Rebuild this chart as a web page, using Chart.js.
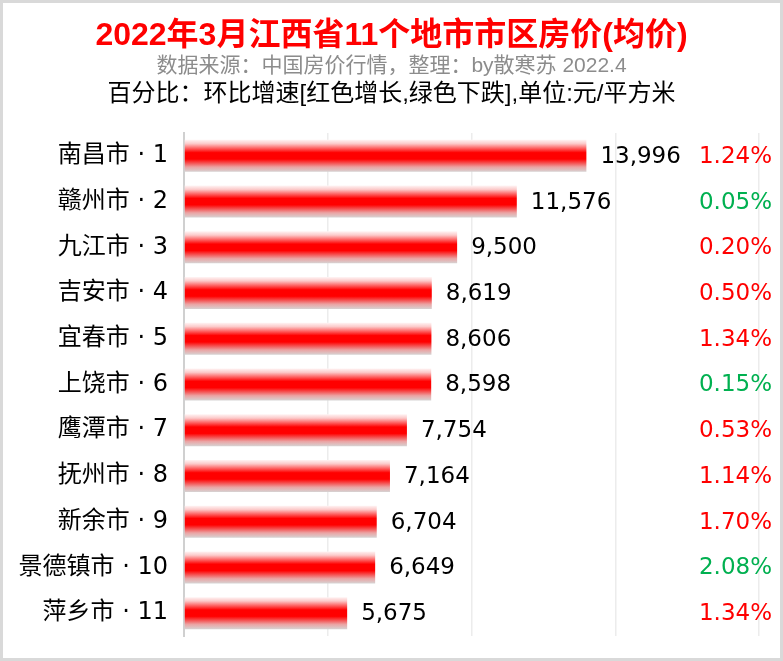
<!DOCTYPE html>
<html><head><meta charset="utf-8">
<script src="https://cdn.jsdelivr.net/npm/chart.js@4/dist/chart.umd.min.js"></script>
<style>html,body{margin:0;padding:0;background:#fff}#wrap{width:783px;height:661px;position:relative}</style>
</head><body><div id="wrap"><canvas id="c" width="783" height="661"></canvas></div>
<script>
const titleText = "2022年3月江西省11个地市市区房价(均价)";
const subtitleText = "数据来源：中国房价行情，整理：by散寒苏 2022.4";
const noteText = "百分比：环比增速[红色增长,绿色下跌],单位:元/平方米";
const cities = ["南昌市 · 1","赣州市 · 2","九江市 · 3","吉安市 · 4","宜春市 · 5","上饶市 · 6","鹰潭市 · 7","抚州市 · 8","新余市 · 9","景德镇市 · 10","萍乡市 · 11"];
const prices = [13996,11576,9500,8619,8606,8598,7754,7164,6704,6649,5675];
const changes = ["1.24%","0.05%","0.20%","0.50%","1.34%","0.15%","0.53%","1.14%","1.70%","2.08%","1.34%"];
const changeIsUp = [true,false,true,true,true,false,true,true,true,false,true];
const axisMax = 20000, axisStep = 5000;

const FONT = '"DejaVu Sans", "Noto Sans CJK SC", sans-serif';
const HFONT = '"Liberation Sans", "Noto Sans CJK SC", sans-serif';

const overlay = {
  id: 'overlay',
  beforeDraw(chart){
    const ctx = chart.ctx;
    ctx.save();
    ctx.fillStyle = '#fff';
    ctx.fillRect(0,0,chart.width,chart.height);
    ctx.restore();
  },
  afterDraw(chart){
    const ctx = chart.ctx;
    const cx = chart.width/2;
    ctx.save();
    ctx.textAlign = 'center'; ctx.textBaseline = 'middle';
    ctx.fillStyle = '#ff0000';
    ctx.font = 'bold 32px ' + HFONT;
    ctx.fillText(titleText, cx, 36);
    ctx.fillStyle = '#8c8c8c';
    ctx.font = '21px ' + HFONT;
    ctx.fillText(subtitleText, cx, 66);
    ctx.fillStyle = '#000';
    ctx.font = '24px ' + HFONT;
    ctx.fillText(noteText, cx, 94);
    const meta = chart.getDatasetMeta(0);
    ctx.font = '23px ' + FONT;
    meta.data.forEach((bar, i) => {
      ctx.textAlign = 'left';
      ctx.fillStyle = '#000';
      ctx.fillText(prices[i].toLocaleString('en-US'), bar.x + 14, bar.y + 1);
      ctx.textAlign = 'right';
      ctx.fillStyle = changeIsUp[i] ? '#ff0000' : '#00b050';
      ctx.fillText(changes[i], chart.width - 11, bar.y + 1);
    });
    ctx.strokeStyle = '#d9d9d9';
    ctx.lineWidth = 3;
    ctx.strokeRect(1.5,1.5,chart.width-3,chart.height-3);
    ctx.restore();
  }
};

function barGradient(context){
  const chart = context.chart;
  const area = chart.chartArea;
  if(!area) return '#ff0000';
  const y = chart.scales.y.getPixelForValue(context.dataIndex);
  const h = (area.bottom - area.top) / cities.length * 0.7;
  const g = chart.ctx.createLinearGradient(0, y - h/2, 0, y + h/2);
  g.addColorStop(0, '#fff4f4');
  g.addColorStop(0.12, '#fccaca');
  g.addColorStop(0.4, '#ff0000');
  g.addColorStop(0.6, '#ff0000');
  g.addColorStop(0.85, '#eba3a3');
  g.addColorStop(1, '#d6d3d3');
  return g;
}

new Chart(document.getElementById('c'), {
  type: 'bar',
  data: { labels: cities, datasets: [{ data: prices, backgroundColor: barGradient, borderWidth: 0, barPercentage: 0.7, categoryPercentage: 1 }] },
  options: {
    responsive: false, animation: false, indexAxis: 'y',
    layout: { padding: { top: 133, right: 24, bottom: 25, left: 0 } },
    plugins: { legend: { display: false }, tooltip: { enabled: false } },
    scales: {
      x: { min: 0, max: axisMax, afterFit(scale){ scale.height = 0; scale.paddingLeft = 0; scale.paddingRight = 0; }, ticks: { display: false, stepSize: axisStep }, grid: { color: '#ececec', lineWidth: 1.5, drawTicks: false }, border: { display: false } },
      y: {
        afterFit(scale){ scale.width = 184; scale.paddingTop = 0; scale.paddingBottom = 0; },
        ticks: { color: '#000', font: { size: 24, family: FONT }, padding: 16 },
        grid: { display: false, drawTicks: false },
        border: { display: true, color: '#d0d0d0', width: 2 }
      }
    }
  },
  plugins: [overlay]
});
</script></body></html>
